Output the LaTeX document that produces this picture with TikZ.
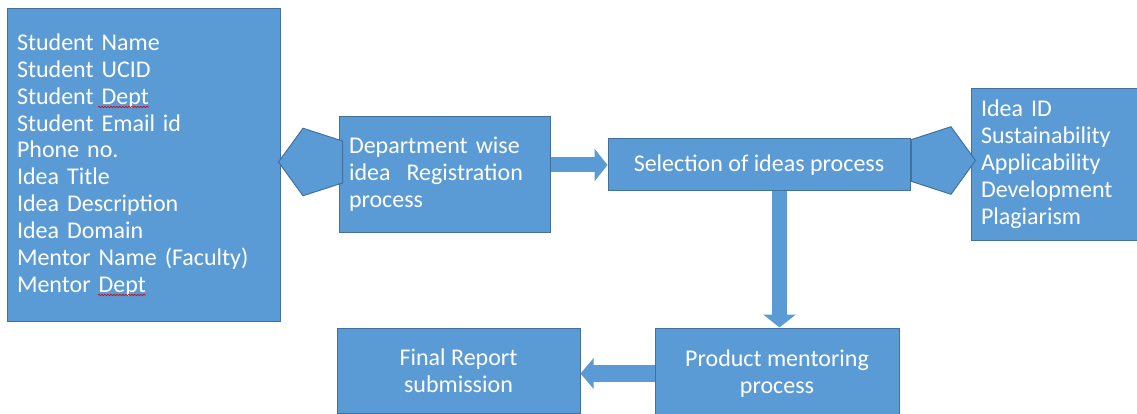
\documentclass[tikz,border=0pt]{standalone}
\usepackage{fontspec}
\setmainfont{Carlito}
\usetikzlibrary{shapes,arrows.meta,positioning,decorations.pathmorphing}
\definecolor{boxblue}{HTML}{5B9BD5}
\definecolor{edgeblue}{HTML}{41719C}

\begin{document}
\begin{tikzpicture}[x=1pt, y=-1pt,
    box/.style={rectangle, draw=edgeblue, fill=boxblue, line width=1pt, text=white, inner sep=0pt, font=\fontsize{24}{26.9}\selectfont},
    pent/.style={regular polygon, regular polygon sides=5, draw=edgeblue, fill=boxblue, line width=1pt, minimum size=71pt, inner sep=0pt, outer sep=0pt},
    blockarrow/.style={boxblue, line width=15pt, -{Triangle[width=32pt,length=13pt]}},
    spellmark/.style={red!85!black, line width=0.6pt, decorate, decoration={snake, segment length=3pt, amplitude=0.8pt}}]
    \useasboundingbox (0,0) rectangle (1137,414);

    \node (fields) [box, minimum width=273pt, minimum height=312pt, text width=253pt, align=left] at (143.5,165) {Student Name\\Student UCID\\Student Dept\\Student Email id\\Phone no.\\Idea Title\\Idea Description\\Idea Domain\\Mentor Name (Faculty)\\Mentor Dept};
    \node (dept) [box, minimum width=211pt, minimum height=115pt, text width=191pt, align=left] at (444.5,174.5) {Department wise\\idea~ Registration\\process};
    \node (sel) [box, minimum width=302pt, minimum height=52pt, align=center] at (759,165) {Selection of ideas process};
    \node (crit) [box, minimum width=168pt, minimum height=151pt, text width=148pt, align=left] at (1055,164.5) {Idea ID\\Sustainability\\Applicability\\Development\\Plagiarism};
    \node (prod) [box, minimum width=244pt, minimum height=91pt, align=center] at (777,373.5) {Product mentoring\\process};
    \node (final) [box, minimum width=243pt, minimum height=85pt, align=center] at (458.5,370.5) {Final Report\\submission};

    % spelling marks under "Dept"
    \draw [spellmark] (98,107) -- (149,107);
    \draw [spellmark] (98,295) -- (146,295);

    \node (joinL) [pent, rotate=90] at (314,162) {};
    \node (joinR) [pent, rotate=-90] at (940,160.5) {};

    \coordinate (drop) at ([xshift=2.5pt]prod.north);
    \draw [blockarrow] (dept.east |- sel.west) -- (sel.west);
    \draw [blockarrow] (sel.south -| drop) -- (drop);
    \draw [blockarrow, line width=17pt, -{Triangle[width=30pt,length=13pt]}] (prod.west) -- (final.east |- prod.west);
\end{tikzpicture}
\end{document}
